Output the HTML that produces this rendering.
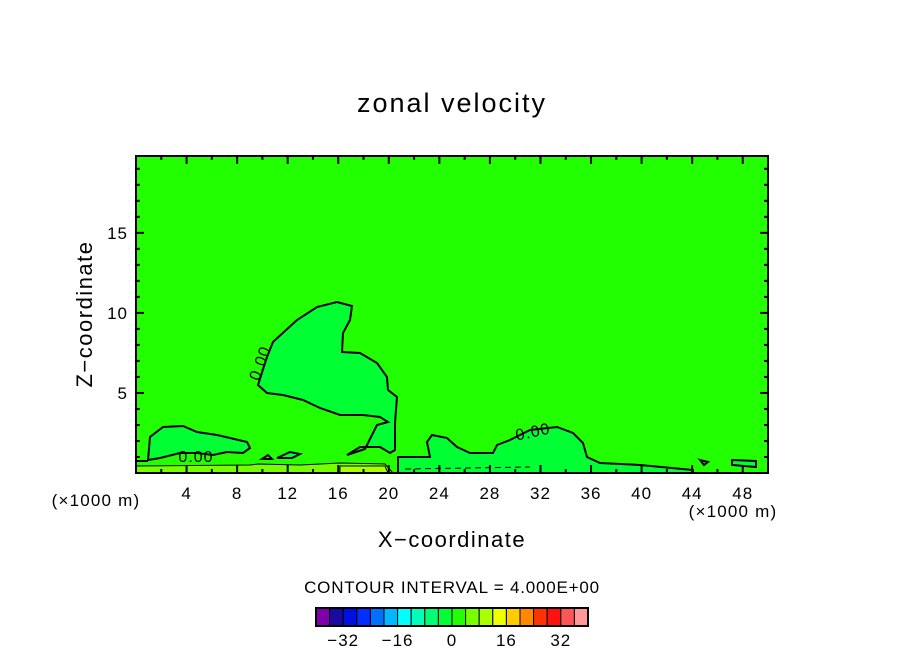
<!DOCTYPE html>
<html><head><meta charset="utf-8"><style>
body{margin:0;background:#fff;}
svg{display:block;font-family:"Liberation Sans",sans-serif;}
</style></head><body>
<svg id="chart" width="904" height="654" viewBox="0 0 904 654">
<text x="452" y="112" font-size="27" letter-spacing="2" text-anchor="middle">zonal velocity</text>
<g id="plot"></g>
<text x="452" y="547" font-size="22" letter-spacing="1.5" text-anchor="middle">X−coordinate</text>
<text x="0" y="0" font-size="22" letter-spacing="1.5" text-anchor="middle" transform="translate(92,314) rotate(-90)">Z−coordinate</text>
<text x="96" y="506" font-size="17" letter-spacing="1.2" text-anchor="middle">(×1000 m)</text>
<text x="733" y="517" font-size="17" letter-spacing="1.2" text-anchor="middle">(×1000 m)</text>
<text x="452" y="593" font-size="17" letter-spacing="0.8" text-anchor="middle">CONTOUR INTERVAL = 4.000E+00</text>
<g id="cbar"></g>
</svg>
<script>
const xTicks=[4,8,12,16,20,24,28,32,36,40,44,48];
const yTicks=[5,10,15];
const cbColors=["#7f00aa","#1a0aa0","#0010e0","#0030ff","#0070ff","#00b8ff","#00ffff","#00ffbb","#00ff77","#00ff33","#22ff00","#77ff00","#aaff00","#eeff00","#ffcc00","#ff8800","#ff3300","#ff1111","#ff5555","#ff9999"];
const cbLabels=[-32,-16,0,16,32];
const cbMin=-40, cbStep=4;

const NS="http://www.w3.org/2000/svg";
const X0=136,X1=768,Y0=473,Y1=156,xMin=0,xMax=50,yMin=0,yMax=19.8;
const sx=v=>X0+(v-xMin)/(xMax-xMin)*(X1-X0);
const sy=v=>Y0-(v-yMin)/(yMax-yMin)*(Y0-Y1);
function mk(t,a,p){const e=document.createElementNS(NS,t);for(const k in a)e.setAttribute(k,a[k]);p.appendChild(e);return e;}
const plot=document.getElementById('plot');
const bg=mk('rect',{x:X0,y:Y1,width:X1-X0,height:Y0-Y1,fill:'#22ff00'},plot);


mk('path',{d:'M136,466 L250,465 L258,464 L300,465 L340,463 L385,464 L393,473 L136,473Z',fill:'#77ff00',stroke:'#000','stroke-width':1},plot);
mk('path',{d:'M340,466 L385,466 L388,473 L340,473Z',fill:'#aaff00',stroke:'#000','stroke-width':1},plot);
const blobs=[
'M258,385 L267,357 L273,342 L297,320 L317,307 L337,302 L352,306 L350,320 L343,333 L342,352 L360,353 L377,363 L387,377 L388,390 L397,397 L395,423 L395,450 L390,453 L380,447 L360,447 L347,455 L365,449 L377,425 L388,422 L380,417 L363,415 L340,415 L320,408 L303,400 L283,395 L267,393Z',
'M148,460 L150,437 L163,427 L183,426 L197,432 L217,435 L230,438 L247,442 L250,448 L243,453 L227,452 L213,455 L197,453 L180,453 L160,458Z',
'M398,473 L398,457 L430,457 L427,442 L432,435 L447,438 L457,447 L470,453 L493,453 L497,445 L510,440 L530,430 L557,427 L573,433 L583,443 L587,457 L600,463 L640,465 L693,470 L693,473Z',
'M277,458 L290,452 L300,454 L292,458Z','M262,459 L268,455 L272,459Z'];
blobs.forEach((d,i)=>{const p=mk('path',{d:d,fill:'#00ff33',stroke:'#000','stroke-width':2},plot);

});
mk('path',{d:'M136,461 L148,461',stroke:'#000','stroke-width':2,fill:'none'},plot);
mk('path',{d:'M405,469 L530,467',stroke:'#000','stroke-width':1,'stroke-dasharray':'6,4',fill:'none'},plot);
mk('path',{d:'M700,460 L708,462 L704,465Z M732,460 L756,461 L756,467 L732,465Z',fill:'#00ff33',stroke:'#000','stroke-width':2},plot);
[[265,365,-70],[196,462,0],[534,437,-12]].forEach(a=>{const t=mk('text',{x:a[0],y:a[1],'font-size':16,'letter-spacing':1,'text-anchor':'middle',transform:`rotate(${a[2]},${a[0]},${a[1]})`},plot);t.textContent='0.00';

});
const fr=mk('rect',{x:X0,y:Y1,width:X1-X0,height:Y0-Y1,fill:'none',stroke:'#000','stroke-width':2},plot);


for(let v=2;v<xMax;v+=2){const L=v%4===0?8:4,x=sx(v);
mk('line',{x1:x,y1:Y0,x2:x,y2:Y0-L,stroke:'#000','stroke-width':2},plot);
mk('line',{x1:x,y1:Y1,x2:x,y2:Y1+L,stroke:'#000','stroke-width':2},plot);}
for(let v=1;v<yMax;v+=1){const L=v%5===0?8:4,y=sy(v);
mk('line',{x1:X0,y1:y,x2:X0+L,y2:y,stroke:'#000','stroke-width':2},plot);
mk('line',{x1:X1,y1:y,x2:X1-L,y2:y,stroke:'#000','stroke-width':2},plot);}
xTicks.forEach(v=>{const t=mk('text',{x:sx(v),y:499,'font-size':17,'letter-spacing':1,'text-anchor':'middle'},plot);t.textContent=v;

});
yTicks.forEach(v=>{const t=mk('text',{x:128,y:sy(v)+6,'font-size':17,'letter-spacing':1,'text-anchor':'end'},plot);t.textContent=v;

});
const cb=document.getElementById('cbar');const CX0=316,CX1=588,CY=608,CH=18;
const bw=(CX1-CX0)/cbColors.length;
const cx=v=>CX0+(v-cbMin)/cbStep*bw;
cbColors.forEach((c,i)=>{const r=mk('rect',{x:cx(cbMin+i*cbStep),y:CY,width:bw,height:CH,fill:c,stroke:'#000','stroke-width':1},cb);

});
mk('rect',{x:CX0,y:CY,width:CX1-CX0,height:CH,fill:'none',stroke:'#000','stroke-width':2},cb);
cbLabels.forEach(v=>{const t=mk('text',{x:cx(v),y:646,'font-size':17,'letter-spacing':1,'text-anchor':'middle'},cb);t.textContent=v<0?'−'+(-v):v;

});
</script>
</body></html>
